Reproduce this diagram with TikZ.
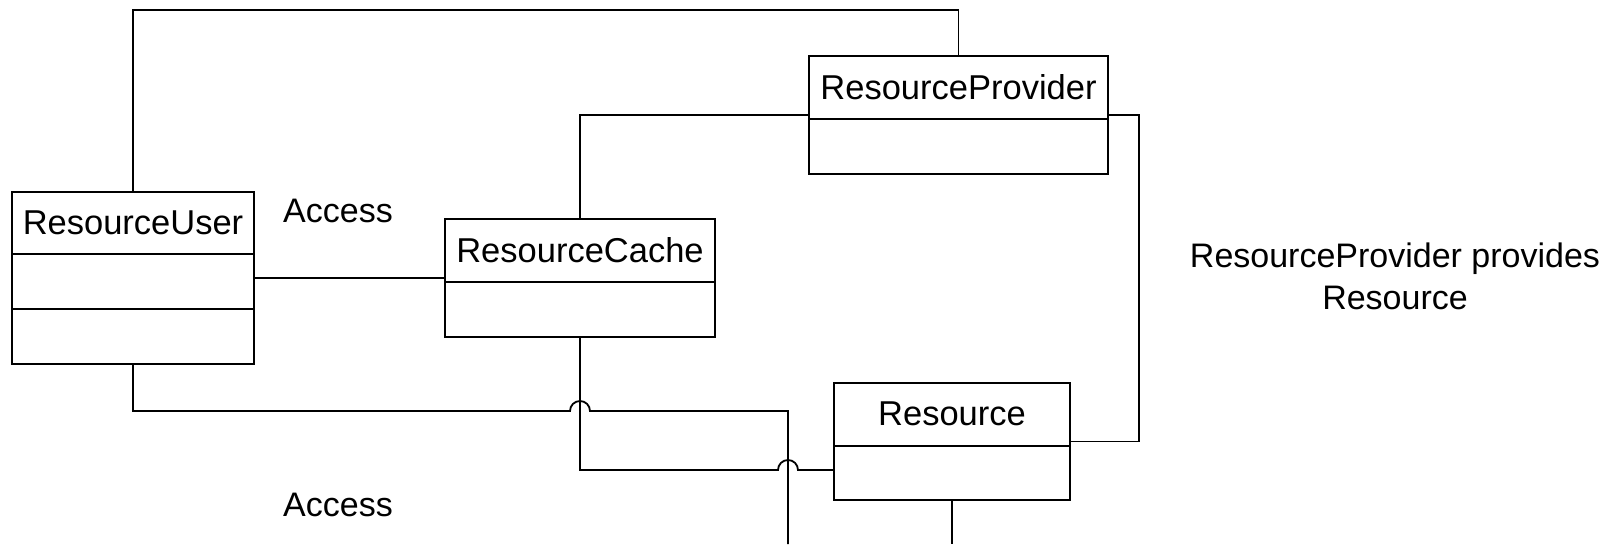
\documentclass[tikz,border=0pt]{standalone}
\usepackage{fontspec}
\setmainfont{Liberation Sans}
\usetikzlibrary{calc}
\begin{document}
\begin{tikzpicture}[x=1pt,y=1pt,
  classbox/.style={draw,line width=2.9pt,inner sep=0pt,outer sep=0pt},
  divider/.style={line width=2.9pt},
  titletext/.style={font=\fontsize{34.5}{34}\selectfont,inner sep=0pt},
  conn/.style={line width=1.8pt},
  lbl/.style={font=\fontsize{34}{42}\selectfont,align=center,inner sep=0pt}]
\useasboundingbox (0,0) rectangle (1618,-544);
% classes
\node[classbox,minimum width=242,minimum height=172] (user) at (133,-278) {};
\draw[divider] (12,-254) -- (254,-254);
\draw[divider] (12,-309) -- (254,-309);
\node[titletext] (usert) at (133,-223) {ResourceUser};

\node[classbox,minimum width=270,minimum height=118] (cache) at (580,-278) {};
\draw[divider] (445,-282) -- (715,-282);
\node[titletext] (cachet) at (580,-250) {ResourceCache};

\node[classbox,minimum width=299,minimum height=118] (prov) at (958.5,-115) {};
\draw[divider] (809,-119) -- (1108,-119);
\node[titletext] (provt) at (958.5,-87) {ResourceProvider};

\node[classbox,minimum width=236,minimum height=117] (res) at (952,-441.5) {};
\draw[divider] (834,-446) -- (1070,-446);
\node[titletext] (rest) at (952,-414) {Resource};

% free ends
\coordinate (top) at (0,-10);
\coordinate (uend) at (788,-544);
\coordinate (rend) at (952,-544);
\coordinate (resw) at ($(res.west)+(0,-28.5)$);

% connectors
\draw[conn] (user.north) -- (user.north |- top) -| (prov.north);
\draw[conn] (user.east) -- (cache.west);
\draw[conn] (cache.north) |- (prov.west);
\draw[conn] (prov.east) -- ++(31,0) |- (res.east);
\draw[conn] (user.south) -- (133,-411) -- (570,-411)
  arc[start angle=180,end angle=0,radius=10] -- (788,-411) -- (uend);
\draw[conn] (cache.south) -- (580,-470) -- (778,-470)
  arc[start angle=180,end angle=0,radius=10] -- (resw);
\draw[conn] (res.south) -- (rend);

% labels
\node[lbl] (acc1) at (338,-211) {Access};
\node[lbl] (acc2) at (338,-505) {Access};
\node[lbl,anchor=north] (note) at (1395,-243) {ResourceProvider provides\\Resource};
\end{tikzpicture}
\end{document}
